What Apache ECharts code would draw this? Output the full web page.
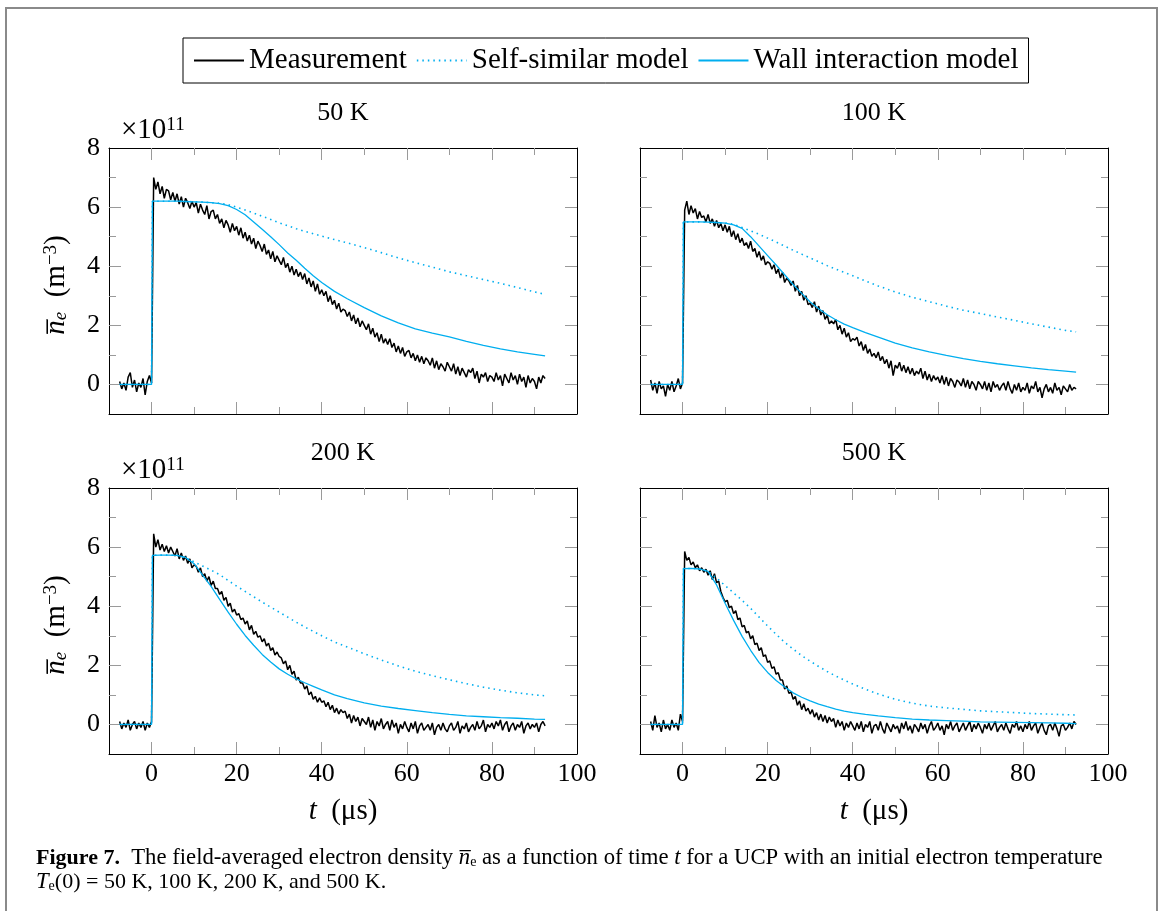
<!DOCTYPE html>
<html>
<head>
<meta charset="utf-8">
<script src="https://cdn.jsdelivr.net/npm/echarts@6/dist/echarts.min.js"></script>
<style>
  html, body { margin: 0; padding: 0; background: #fff; }
  #chart { width: 1163px; height: 911px; }
</style>
</head>
<body>
<div id="chart"></div>
<script>
const panelTitles = ['50 K', '100 K', '200 K', '500 K']
const seriesNames = ['Measurement', 'Self-similar model', 'Wall interaction model']
const xTickLabels = [0, 20, 40, 60, 80, 100]
const xMajorTicks = [0, 20, 40, 60, 80]
const xMinorTicks = [10, 30, 50, 70, 90]
const yTickLabels = [0, 2, 4, 6, 8]
const yMajorTicks = [0, 2, 4, 6]
const yMinorTicks = [1, 3, 5, 7]

// measurement, one sample every 0.5 µs starting at -7.5 µs (units of 1e11 m^-3)
const measStart = -7.5
const measStep = 0.5
const meas50 = [
  0.1, -0.15, 0.05, -0.2, 0.25, 0.4, -0.1, 0.15, -0.25, 0.05,
  -0.1, 0.2, -0.35, 0.1, 0.3, 0.05,
  7.0, 6.6, 6.85, 6.45, 6.7, 6.3, 6.6, 6.55, 6.25, 6.5,
  6.2, 6.45, 6.1, 6.35, 6.0, 6.3, 6.15, 5.95, 6.2, 6.0,
  6.15, 5.8, 6.1, 5.9, 5.75, 6.05, 5.6, 5.85, 5.9, 5.6,
  5.75, 5.45, 5.6, 5.3, 5.55, 5.4, 5.15, 5.45, 5.2, 5.35,
  5.05, 5.3, 4.95, 5.15, 4.85, 5.05, 4.75, 4.95, 4.6, 4.85,
  4.7, 4.5, 4.75, 4.4, 4.55, 4.25, 4.5, 4.15, 4.35, 4.2,
  4.05, 4.3, 3.95, 4.1, 3.8, 4.0, 3.7, 3.9, 3.65, 3.8,
  3.55, 3.75, 3.4, 3.6, 3.3, 3.5, 3.15, 3.4, 3.05, 3.2,
  3.0, 3.15, 2.8, 3.0, 2.7, 2.85, 2.55, 2.75, 2.45, 2.55,
  2.5, 2.3, 2.45, 2.15, 2.35, 2.05, 2.25, 1.95, 2.15, 2.0,
  1.85, 2.05, 1.7, 1.9, 1.6, 1.75, 1.45, 1.7, 1.4, 1.55,
  1.35, 1.55, 1.25, 1.4, 1.1, 1.3, 1.05, 1.25, 0.95, 1.1,
  1.15, 0.9, 1.05, 0.8, 1.0, 0.75, 0.95, 0.7, 0.9, 0.8,
  0.65, 0.9, 0.55, 0.8, 0.5, 0.7, 0.6, 0.45, 0.75, 0.6,
  0.45, 0.7, 0.35, 0.6, 0.3, 0.55, 0.4, 0.25, 0.5, 0.4,
  0.55, 0.2, 0.45, 0.05, 0.35, 0.25, 0.4, 0.1, 0.3, 0.25,
  0.1, 0.4, 0.15, 0.3, -0.05, 0.35, 0.2, 0.05, 0.4, 0.15,
  0.3, 0.0, 0.35, 0.1, 0.25, -0.1, 0.3, 0.05, 0.2, 0.1,
  -0.15, 0.25, 0.05, 0.3, 0.2
]
const meas100 = [
  0.15, -0.2, 0.05, -0.3, 0.1, -0.15, -0.05, -0.4, 0.0, -0.2,
  0.1, -0.25, -0.05, 0.2, -0.15, 0.05,
  5.9, 6.2, 5.75, 6.05, 5.8, 5.95, 5.6, 5.85, 5.65, 5.7,
  5.5, 5.75, 5.45, 5.6, 5.35, 5.55, 5.3, 5.45, 5.2, 5.4,
  5.15, 5.35, 5.0, 5.2, 4.9, 5.1, 4.8, 4.95, 4.7, 4.8,
  4.6, 4.85, 4.5, 4.6, 4.3, 4.5, 4.2, 4.35, 4.05, 4.15,
  4.1, 3.9, 4.05, 3.75, 3.9, 3.6, 3.8, 3.45, 3.6, 3.5,
  3.35, 3.5, 3.15, 3.35, 3.0, 3.15, 2.85, 3.0, 2.7, 2.75,
  2.6, 2.8, 2.45, 2.65, 2.35, 2.5, 2.2, 2.35, 2.05, 2.15,
  2.05, 2.2, 1.85, 2.0, 1.7, 1.9, 1.6, 1.75, 1.45, 1.55,
  1.5, 1.6, 1.3, 1.45, 1.15, 1.35, 1.05, 1.2, 0.95, 1.05,
  0.9, 1.1, 0.8, 0.95, 0.7, 0.85, 0.55, 0.8, 0.3, 0.65,
  0.55, 0.75, 0.45, 0.65, 0.4, 0.6, 0.35, 0.55, 0.3, 0.45,
  0.35, 0.55, 0.2, 0.45, 0.15, 0.35, 0.1, 0.3, 0.15, 0.25,
  0.05, 0.3, 0.0, 0.25, -0.05, 0.2, 0.1, -0.1, 0.15, 0.08,
  -0.05, 0.2, -0.1, 0.15, -0.15, 0.1, 0.0, -0.2, 0.1, 0.0,
  -0.15, 0.1, -0.2, 0.05, -0.25, 0.1, -0.1, 0.0, -0.2, -0.05,
  0.05, -0.2, 0.1, -0.15, -0.3, 0.0, -0.2, 0.05, -0.25, -0.1,
  -0.2, 0.05, -0.3, -0.05, -0.15, 0.1, -0.25, -0.1, -0.45, -0.15,
  0.0, -0.25, -0.1, -0.3, 0.05, -0.2, -0.1, -0.35, -0.05, -0.15,
  -0.25, 0.0, -0.2, -0.1, -0.15
]
const meas200 = [
  0.1, -0.15, 0.05, -0.1, 0.15, -0.2, 0.0, 0.1, -0.15, 0.05,
  -0.1, 0.1, -0.2, 0.05, -0.1, 0.1,
  6.45, 6.0, 6.25, 5.9, 6.1, 5.85, 6.05, 5.8, 6.0, 5.85,
  5.7, 5.95, 5.6, 5.8, 5.55, 5.7, 5.45, 5.6, 5.3, 5.4,
  5.35, 5.15, 5.3, 5.0, 5.1, 4.85, 5.0, 4.7, 4.85, 4.6,
  4.6, 4.4, 4.5, 4.2, 4.3, 4.0, 4.1, 3.8, 3.9, 3.7,
  3.75, 3.55, 3.6, 3.4, 3.5, 3.2, 3.35, 3.05, 3.15, 2.95,
  3.0, 2.8, 2.9, 2.65, 2.75, 2.5, 2.6, 2.35, 2.45, 2.3,
  2.25, 2.05, 2.15, 1.85, 2.0, 1.7, 1.8, 1.5, 1.6, 1.4,
  1.4, 1.2, 1.3, 1.0, 1.1, 0.85, 0.95, 0.75, 0.9, 0.75,
  0.8, 0.6, 0.75, 0.5, 0.65, 0.4, 0.55, 0.35, 0.5, 0.4,
  0.45, 0.2, 0.35, 0.05, 0.3, 0.1, 0.25, -0.05, 0.2, 0.1,
  0.0, 0.25, -0.1, 0.15, -0.2, 0.1, -0.05, 0.2, -0.15, 0.0,
  0.1, -0.2, 0.15, -0.1, 0.05, -0.3, 0.0, -0.15, 0.1, -0.1,
  -0.25, 0.05, -0.15, 0.1, -0.3, -0.05, 0.05, -0.2, -0.1, 0.0,
  -0.2, 0.05, -0.35, -0.1, 0.0, -0.2, 0.05, -0.15, -0.25, -0.05,
  0.05, -0.2, -0.1, 0.1, -0.3, -0.05, -0.15, 0.05, -0.25, -0.1,
  0.0, -0.2, 0.1, -0.15, -0.05, 0.15, -0.25, 0.0, -0.1, 0.05,
  -0.15, 0.1, -0.05, 0.15, -0.2, 0.0, 0.1, -0.25, -0.05, 0.05,
  -0.2, 0.0, -0.1, 0.1, -0.3, -0.05, 0.05, -0.15, 0.0, -0.1,
  0.05, -0.25, 0.0, 0.1, -0.05
]
const meas500 = [
  0.1, -0.2, 0.3, -0.1, 0.05, -0.25, 0.15, -0.15, 0.0, -0.2,
  0.15, -0.1, 0.05, -0.2, 0.35, 0.1,
  5.85, 5.55, 5.65, 5.4, 5.5, 5.3, 5.4, 5.2, 5.3, 5.15,
  5.25, 5.05, 5.2, 4.9, 5.1, 4.8, 4.85, 4.5, 4.3, 4.15,
  4.2, 3.95, 4.0, 3.75, 3.85, 3.55, 3.6, 3.3, 3.35, 3.1,
  3.15, 2.9, 3.0, 2.7, 2.75, 2.5, 2.6, 2.3, 2.35, 2.1,
  2.15, 1.9, 1.95, 1.7, 1.75, 1.5, 1.5, 1.2, 1.3, 1.05,
  1.1, 0.85, 0.95, 0.65, 0.8, 0.5, 0.7, 0.45, 0.55, 0.35,
  0.5, 0.25, 0.4, 0.15, 0.35, 0.1, 0.3, 0.05, 0.25, 0.1,
  0.2, -0.1, 0.15, -0.05, 0.1, -0.2, 0.05, -0.1, 0.1, -0.05,
  -0.2, 0.05, -0.15, 0.1, -0.25, 0.0, -0.1, 0.1, -0.3, -0.05,
  0.0, -0.2, 0.1, -0.15, -0.3, 0.05, -0.1, -0.25, 0.0, -0.15,
  -0.05, -0.3, 0.05, -0.15, 0.1, -0.2, -0.05, -0.3, 0.0, -0.1,
  -0.25, 0.05, -0.15, 0.0, -0.3, -0.05, 0.1, -0.2, -0.1, 0.05,
  -0.2, -0.05, -0.35, 0.0, -0.15, 0.1, -0.2, -0.05, 0.05, -0.25,
  -0.1, 0.05, -0.2, -0.05, 0.1, -0.25, 0.0, -0.15, 0.05, -0.1,
  -0.3, 0.0, -0.15, 0.05, -0.2, -0.05, 0.1, -0.25, -0.1, 0.0,
  -0.2, 0.05, -0.15, -0.3, 0.0, -0.1, 0.1, -0.2, -0.05, -0.25,
  0.0, -0.15, 0.1, -0.2, -0.05, 0.05, -0.3, -0.1, 0.05, -0.2,
  -0.35, -0.05, 0.0, -0.2, 0.05, -0.15, -0.4, -0.05, 0.0, -0.2,
  -0.1, 0.05, -0.15, 0.1, 0.0
]

// model curves, sampled at modelT (µs)
const modelT = [-7.5, 0, 0.2, 2, 4, 6, 8, 10, 12, 14, 16, 18, 20, 22, 24, 26, 28, 30, 32, 34, 36, 38, 40,
  43, 46, 50, 54, 58, 62, 66, 70, 74, 78, 82, 86, 90, 92.5]
const self50 = [0, 0, 6.2, 6.2, 6.2, 6.2, 6.19, 6.18, 6.17, 6.15, 6.13, 6.08, 6.0, 5.9, 5.8, 5.69, 5.58, 5.47, 5.37, 5.27, 5.18, 5.1, 5.02,
  4.9, 4.79, 4.63, 4.46, 4.28, 4.12, 3.97, 3.81, 3.68, 3.55, 3.42, 3.28, 3.13, 3.05]
const wall50 = [0, 0, 6.2, 6.2, 6.2, 6.2, 6.19, 6.18, 6.17, 6.15, 6.12, 6.05, 5.92, 5.74, 5.5, 5.25, 5.0, 4.73, 4.45, 4.2, 3.93, 3.68, 3.45,
  3.15, 2.9, 2.6, 2.32, 2.08, 1.88, 1.74, 1.61, 1.46, 1.32, 1.2, 1.1, 1.02, 0.97]
const self100 = [0, 0, 5.5, 5.5, 5.5, 5.49, 5.48, 5.46, 5.42, 5.31, 5.2, 5.08, 4.95, 4.82, 4.68, 4.54, 4.41, 4.28, 4.15, 4.02, 3.9, 3.79, 3.68,
  3.5, 3.33, 3.13, 2.95, 2.8, 2.65, 2.51, 2.4, 2.28, 2.17, 2.05, 1.94, 1.83, 1.78]
const wall100 = [0, 0, 5.5, 5.5, 5.5, 5.49, 5.48, 5.46, 5.4, 5.28, 5.0, 4.68, 4.36, 4.04, 3.71, 3.38, 3.08, 2.79, 2.56, 2.36, 2.19, 2.04, 1.92,
  1.75, 1.6, 1.4, 1.24, 1.1, 0.98, 0.87, 0.78, 0.7, 0.63, 0.56, 0.5, 0.45, 0.42]
const self200 = [0, 0, 5.72, 5.73, 5.73, 5.72, 5.63, 5.5, 5.36, 5.22, 5.07, 4.87, 4.68, 4.5, 4.32, 4.14, 3.97, 3.8, 3.63, 3.46, 3.3, 3.15, 3.0,
  2.79, 2.62, 2.39, 2.18, 1.98, 1.8, 1.65, 1.51, 1.38, 1.26, 1.16, 1.07, 1.0, 0.97]
const wall200 = [0, 0, 5.72, 5.73, 5.73, 5.72, 5.65, 5.44, 5.05, 4.67, 4.23, 3.8, 3.39, 3.01, 2.68, 2.37, 2.11, 1.88, 1.7, 1.54, 1.41, 1.29, 1.17,
  1.0, 0.87, 0.73, 0.62, 0.54, 0.47, 0.4, 0.34, 0.29, 0.26, 0.23, 0.21, 0.18, 0.17]
const self500 = [0, 0, 5.27, 5.28, 5.26, 5.18, 4.95, 4.7, 4.45, 4.2, 3.93, 3.63, 3.33, 3.05, 2.78, 2.55, 2.33, 2.14, 1.96, 1.79, 1.64, 1.5, 1.37,
  1.19, 1.03, 0.85, 0.72, 0.62, 0.56, 0.51, 0.46, 0.43, 0.4, 0.37, 0.35, 0.33, 0.32]
const wall500 = [0, 0, 5.27, 5.28, 5.26, 5.18, 4.72, 4.1, 3.52, 2.98, 2.51, 2.09, 1.76, 1.49, 1.27, 1.07, 0.92, 0.8, 0.69, 0.6, 0.52, 0.45, 0.4,
  0.34, 0.29, 0.23, 0.18, 0.15, 0.13, 0.11, 0.09, 0.08, 0.07, 0.06, 0.05, 0.04, 0.03]

const measAll = [meas50, meas100, meas200, meas500]
const selfAll = [self50, self100, self200, self500]
const wallAll = [wall50, wall100, wall200, wall500]

const FONT = 'Liberation Serif'
const CYAN = '#00AEEF'
const TICK = '#9a9a9a'

const grids = [
  { left: 109, top: 148, width: 468, height: 266 },
  { left: 640, top: 148, width: 468, height: 266 },
  { left: 109, top: 488, width: 468, height: 266 },
  { left: 640, top: 488, width: 468, height: 266 }
]

const frameLine = { show: true, onZero: false, lineStyle: { color: '#000', width: 1 } }
const noLine = { show: false, onZero: false }
const tick = (len, vals) => ({ show: true, inside: true, length: len, customValues: vals, lineStyle: { color: TICK, width: 1 } })
const tickLabel = (show, vals, margin) => ({ show: show, customValues: vals, margin: margin, fontSize: 26, fontFamily: FONT, color: '#000' })

const xAxes = []
const yAxes = []
grids.forEach((g, gi) => {
  const showX = gi >= 2
  const showY = gi % 2 === 0
  const xb = { type: 'value', gridIndex: gi, min: -10, max: 100, splitLine: { show: false } }
  const yb = { type: 'value', gridIndex: gi, min: -1, max: 8, splitLine: { show: false } }
  xAxes.push(
    { ...xb, position: 'bottom', axisLine: frameLine, axisTick: tick(12, xMajorTicks), axisLabel: tickLabel(showX, xTickLabels, 7) },
    { ...xb, position: 'top', axisLine: frameLine, axisTick: tick(12, xMajorTicks), axisLabel: { show: false } },
    { ...xb, position: 'bottom', axisLine: noLine, axisTick: tick(7, xMinorTicks), axisLabel: { show: false } },
    { ...xb, position: 'top', axisLine: noLine, axisTick: tick(7, xMinorTicks), axisLabel: { show: false } }
  )
  yAxes.push(
    { ...yb, position: 'left', axisLine: frameLine, axisTick: tick(12, yMajorTicks), axisLabel: tickLabel(showY, yTickLabels, 9) },
    { ...yb, position: 'right', axisLine: frameLine, axisTick: tick(12, yMajorTicks), axisLabel: { show: false } },
    { ...yb, position: 'left', axisLine: noLine, axisTick: tick(7, yMinorTicks), axisLabel: { show: false } },
    { ...yb, position: 'right', axisLine: noLine, axisTick: tick(7, yMinorTicks), axisLabel: { show: false } }
  )
})

const series = []
grids.forEach((g, gi) => {
  const axisIdx = { xAxisIndex: gi * 4, yAxisIndex: gi * 4 }
  series.push({
    ...axisIdx, type: 'line', name: seriesNames[0], symbol: 'none', z: 2,
    data: measAll[gi].map((v, i) => [measStart + i * measStep, v]),
    lineStyle: { color: '#000', width: 1.5 }, itemStyle: { color: '#000' }
  })
  series.push({
    ...axisIdx, type: 'line', name: seriesNames[1], symbol: 'none', z: 3,
    data: selfAll[gi].map((v, i) => [modelT[i], v]),
    lineStyle: { color: CYAN, width: 1.6, type: [1.5, 4] }, itemStyle: { color: CYAN }
  })
  series.push({
    ...axisIdx, type: 'line', name: seriesNames[2], symbol: 'none', z: 4,
    data: wallAll[gi].map((v, i) => [modelT[i], v]),
    lineStyle: { color: CYAN, width: 1.3 }, itemStyle: { color: CYAN }
  })
})

const txt = (x, y, text, opts) => ({
  type: 'text', x: x, y: y, z: 10,
  style: Object.assign({ text: text, fill: '#000', font: '26px "' + FONT + '"', align: 'center', verticalAlign: 'middle' }, opts || {})
})
const labRich = {
  it: { fontStyle: 'italic', fontSize: 29, fontFamily: FONT },
  n: { fontSize: 29, fontFamily: FONT },
  sub: { fontStyle: 'italic', fontSize: 19, fontFamily: FONT, verticalAlign: 'bottom' },
  sup: { fontSize: 19, fontFamily: FONT, verticalAlign: 'top' }
}
const capRich = {
  b: { fontWeight: 'bold', fontSize: 22, fontFamily: FONT },
  i: { fontStyle: 'italic', fontSize: 22.7, fontFamily: FONT },
  s: { fontSize: 14, fontFamily: FONT, verticalAlign: 'bottom' }
}
const yName = '{it|n\u0305}{sub|e}{n|  (m}{sup|\u22123}{n|)}'
const xName = '{it|t}{n|  (\u03bcs)}'

const graphic = [
  { type: 'rect', z: 0, shape: { x: 6, y: 8, width: 1151, height: 940 }, style: { fill: 'none', stroke: '#8a8a8a', lineWidth: 2 } },
  txt(343, 113, panelTitles[0]),
  txt(874, 113, panelTitles[1]),
  txt(343, 453, panelTitles[2]),
  txt(874, 453, panelTitles[3]),
  txt(121, 130, '{n|×10}{sup|11}', { align: 'left', rich: labRich }),
  txt(121, 470, '{n|×10}{sup|11}', { align: 'left', rich: labRich }),
  Object.assign(txt(56, 285, yName, { rich: labRich }), { rotation: Math.PI / 2 }),
  Object.assign(txt(56, 625, yName, { rich: labRich }), { rotation: Math.PI / 2 }),
  txt(343, 811, xName, { rich: labRich }),
  txt(874, 811, xName, { rich: labRich }),
  txt(36, 858, '{b|Figure 7.}  The field-averaged electron density {i|n\u0305}{s|e} as a function of time {i|t} for a UCP with an initial electron temperature',
    { align: 'left', font: '22.7px "' + FONT + '"', rich: capRich }),
  txt(36, 882, '{i|T}{s|e}(0) = 50 K, 100 K, 200 K, and 500 K.',
    { align: 'left', font: '22px "' + FONT + '"', rich: capRich })
]

const option = {
  animation: false,
  backgroundColor: '#fff',
  legend: {
    data: seriesNames,
    left: 183,
    top: 38,
    padding: [8, 10, 8, 10],
    itemGap: 9,
    itemWidth: 50,
    itemHeight: 4,
    itemStyle: { opacity: 0 },
    borderColor: '#000',
    borderWidth: 1,
    selectedMode: false,
    textStyle: { fontSize: 29, fontFamily: FONT, color: '#000' }
  },
  grid: grids,
  xAxis: xAxes,
  yAxis: yAxes,
  series: series,
  graphic: graphic
}

const chart = echarts.init(document.getElementById('chart'))
chart.setOption(option)
window.addEventListener('resize', () => chart.resize())
</script>
</body>
</html>
